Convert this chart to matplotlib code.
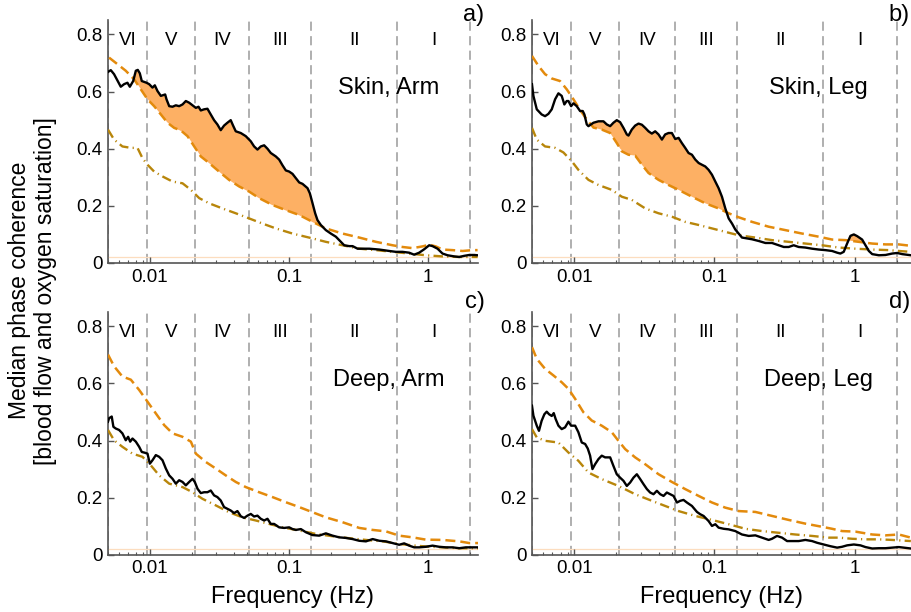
import numpy as np
import matplotlib
matplotlib.use("Agg")
from matplotlib import pyplot as plt
from matplotlib.ticker import LogLocator, FixedLocator, FixedFormatter, NullFormatter

plt.rcParams['font.family'] = ['Liberation Sans', 'DejaVu Sans']

# Frequency bands (Hz) and their names
band_edges = [0.005, 0.0095, 0.021, 0.052, 0.145, 0.6, 2.0]
band_names = ['VI', 'V', 'IV', 'III', 'II', 'I']

# ---- a) Skin, Arm
a_f = [0.005, 0.00524, 0.00553, 0.00618, 0.00653, 0.0069, 0.00718, 0.00759, 0.00793, 0.00819,
       0.00847, 0.00875, 0.00946, 0.00989, 0.01045, 0.01086, 0.01135, 0.012, 0.01289, 0.01318,
       0.01378, 0.01456, 0.01538, 0.01625, 0.01718, 0.01815, 0.01919, 0.02028, 0.02143, 0.02239,
       0.02325, 0.02457, 0.02596, 0.02742, 0.02897, 0.03061, 0.03235, 0.03418, 0.03612, 0.03817,
       0.03969, 0.04149, 0.04507, 0.04897, 0.0532, 0.05623, 0.05943, 0.0628, 0.06637, 0.07015,
       0.07413, 0.08054, 0.08511, 0.08995, 0.09506, 0.1005, 0.1062, 0.1122, 0.1186, 0.1253,
       0.1361, 0.1415, 0.1479, 0.1545, 0.1606, 0.1697, 0.1844, 0.2003, 0.2177, 0.2365,
       0.2499, 0.2716, 0.2871, 0.3119, 0.3389, 0.3785, 0.447, 0.5267, 0.5875, 0.6561,
       0.7328, 0.7962, 0.865, 0.9397, 1.021, 1.079, 1.172, 1.273, 1.384, 1.545,
       1.679, 1.824, 1.982, 2.153, 2.275]
a_coh = [0.669, 0.675, 0.661, 0.617, 0.626, 0.631, 0.617, 0.637, 0.673, 0.676,
         0.664, 0.637, 0.631, 0.626, 0.614, 0.622, 0.602, 0.585, 0.59, 0.573,
         0.549, 0.547, 0.552, 0.549, 0.555, 0.567, 0.561, 0.552, 0.543, 0.547,
         0.534, 0.538, 0.54, 0.52, 0.5, 0.485, 0.465, 0.481, 0.491, 0.5,
         0.481, 0.461, 0.455, 0.444, 0.426, 0.408, 0.397, 0.408, 0.412, 0.4,
         0.385, 0.373, 0.362, 0.342, 0.324, 0.32, 0.312, 0.297, 0.282, 0.277,
         0.262, 0.244, 0.209, 0.174, 0.15, 0.133, 0.115, 0.103, 0.092, 0.074,
         0.062, 0.059, 0.059, 0.05, 0.05, 0.05, 0.047, 0.042, 0.039, 0.039,
         0.036, 0.029, 0.036, 0.048, 0.062, 0.059, 0.05, 0.033, 0.027, 0.023,
         0.021, 0.025, 0.028, 0.028, 0.027]
a_thr_f = [0.00509, 0.00585, 0.00671, 0.00771, 0.00861, 0.00962, 0.01074, 0.012, 0.0134, 0.01496,
           0.01671, 0.01866, 0.02085, 0.02325, 0.02668, 0.03147, 0.03713, 0.04385, 0.05175, 0.06109,
           0.07621, 0.09506, 0.1186, 0.1479, 0.1844, 0.2431, 0.3206, 0.4229, 0.5568, 0.6561,
           0.7745, 0.9141, 1.021, 1.14, 1.273, 1.503, 1.775, 2.094, 2.275]
a_thr = [0.719, 0.696, 0.673, 0.643, 0.608, 0.573, 0.549, 0.52, 0.491, 0.473,
         0.464, 0.444, 0.408, 0.373, 0.35, 0.32, 0.291, 0.268, 0.25, 0.227,
         0.203, 0.185, 0.168, 0.144, 0.121, 0.103, 0.089, 0.074, 0.062, 0.056,
         0.052, 0.058, 0.064, 0.058, 0.047, 0.045, 0.042, 0.045, 0.045]
a_sur_f = [0.005, 0.00553, 0.00635, 0.0073, 0.00815, 0.00885, 0.00962, 0.01074, 0.01233, 0.01456,
           0.01718, 0.01973, 0.02265, 0.02668, 0.03325, 0.04149, 0.05175, 0.06456, 0.08054, 0.1062,
           0.1479, 0.1844, 0.2431, 0.3206, 0.4229, 0.5568, 0.7328, 0.9661, 1.273, 1.679, 2.275]
a_sur = [0.467, 0.432, 0.408, 0.403, 0.403, 0.367, 0.344, 0.32, 0.303, 0.285,
         0.279, 0.256, 0.227, 0.209, 0.191, 0.174, 0.156, 0.138, 0.121, 0.103,
         0.086, 0.074, 0.062, 0.05, 0.045, 0.039, 0.033, 0.027, 0.023, 0.021, 0.021]

# ---- b) Skin, Leg
b_f = [0.005, 0.00512, 0.00541, 0.00586, 0.0062, 0.00655, 0.00692, 0.00731, 0.00772, 0.00815,
       0.00851, 0.00885, 0.0091, 0.00951, 0.00988, 0.01043, 0.01102, 0.01151, 0.01183, 0.0123,
       0.01264, 0.01373, 0.0149, 0.01617, 0.01709, 0.01806, 0.01906, 0.02013, 0.02127, 0.02247,
       0.02375, 0.02441, 0.02576, 0.02723, 0.02877, 0.03041, 0.03213, 0.03391, 0.03581, 0.03784,
       0.03998, 0.04226, 0.04458, 0.0471, 0.04977, 0.0526, 0.05559, 0.05861, 0.06194, 0.06546,
       0.06918, 0.07311, 0.07727, 0.08147, 0.0861, 0.09099, 0.09616, 0.1016, 0.1072, 0.1133,
       0.1197, 0.1265, 0.1337, 0.1411, 0.1491, 0.1574, 0.1709, 0.1855, 0.2072, 0.2312,
       0.2578, 0.2877, 0.3126, 0.3391, 0.3681, 0.3998, 0.446, 0.4977, 0.5559, 0.6194,
       0.6918, 0.7516, 0.7925, 0.8375, 0.8851, 0.9354, 0.9885, 1.044, 1.133, 1.197,
       1.265, 1.337, 1.491, 1.663, 1.855, 2.016, 2.188, 2.523]
b_coh = [0.626, 0.585, 0.538, 0.52, 0.514, 0.522, 0.538, 0.573, 0.594, 0.585,
         0.555, 0.567, 0.567, 0.549, 0.559, 0.549, 0.532, 0.532, 0.52, 0.485,
         0.479, 0.491, 0.496, 0.496, 0.485, 0.479, 0.491, 0.5, 0.493, 0.473,
         0.45, 0.446, 0.467, 0.481, 0.488, 0.484, 0.473, 0.461, 0.453, 0.461,
         0.45, 0.432, 0.45, 0.455, 0.455, 0.434, 0.438, 0.42, 0.403, 0.385,
         0.379, 0.362, 0.35, 0.344, 0.338, 0.326, 0.309, 0.285, 0.262, 0.232,
         0.191, 0.156, 0.138, 0.117, 0.103, 0.089, 0.086, 0.083, 0.077, 0.07,
         0.07, 0.062, 0.056, 0.056, 0.062, 0.056, 0.054, 0.05, 0.047, 0.045,
         0.042, 0.036, 0.033, 0.039, 0.068, 0.095, 0.1, 0.094, 0.082, 0.062,
         0.042, 0.031, 0.027, 0.028, 0.033, 0.035, 0.031, 0.027]
b_thr_f = [0.005, 0.00556, 0.0062, 0.00692, 0.00793, 0.00885, 0.00988, 0.01102, 0.0123, 0.01373,
           0.01573, 0.01806, 0.02013, 0.02186, 0.02441, 0.02723, 0.03041, 0.03391, 0.03998, 0.0471,
           0.05559, 0.06918, 0.0861, 0.1072, 0.1265, 0.1491, 0.1855, 0.244, 0.3213, 0.4226,
           0.5559, 0.6918, 0.861, 1.072, 1.337, 1.663, 2.072, 2.523]
b_thr = [0.725, 0.69, 0.661, 0.646, 0.637, 0.608, 0.573, 0.536, 0.502, 0.474,
         0.467, 0.455, 0.42, 0.391, 0.379, 0.376, 0.344, 0.315, 0.291, 0.273,
         0.256, 0.232, 0.209, 0.191, 0.174, 0.16, 0.144, 0.127, 0.115, 0.103,
         0.092, 0.082, 0.08, 0.074, 0.068, 0.065, 0.065, 0.06]
b_sur_f = [0.005, 0.00541, 0.0062, 0.00731, 0.00838, 0.00962, 0.01072, 0.01264, 0.0149, 0.01855,
           0.02186, 0.02576, 0.03213, 0.03998, 0.04977, 0.06194, 0.07727, 0.09616, 0.1197, 0.1491,
           0.1961, 0.2578, 0.3391, 0.446, 0.5861, 0.7727, 1.016, 1.337, 1.758, 2.072, 2.523]
b_sur = [0.473, 0.432, 0.408, 0.403, 0.387, 0.356, 0.326, 0.291, 0.273, 0.256,
         0.232, 0.221, 0.191, 0.174, 0.162, 0.144, 0.133, 0.121, 0.109, 0.097,
         0.089, 0.08, 0.074, 0.068, 0.062, 0.054, 0.05, 0.047, 0.045, 0.042, 0.039]

# ---- c) Deep, Arm
c_f = [0.005, 0.00509, 0.00532, 0.00547, 0.00569, 0.00601, 0.00635, 0.00671, 0.00698, 0.00722,
       0.0075, 0.00793, 0.00838, 0.00875, 0.00925, 0.00962, 0.01, 0.01045, 0.01104, 0.01167,
       0.01233, 0.01303, 0.01378, 0.01456, 0.01538, 0.01625, 0.01718, 0.01815, 0.01919, 0.02028,
       0.02105, 0.02203, 0.02325, 0.02457, 0.02596, 0.02742, 0.02897, 0.03061, 0.03235, 0.03418,
       0.03612, 0.03817, 0.04036, 0.04265, 0.04507, 0.04763, 0.05034, 0.0532, 0.05623, 0.05943,
       0.0628, 0.06637, 0.07015, 0.07413, 0.07834, 0.08511, 0.09247, 0.1005, 0.1062, 0.1122,
       0.1219, 0.1324, 0.1479, 0.1651, 0.1844, 0.2059, 0.2301, 0.2569, 0.2871, 0.3206,
       0.3581, 0.4001, 0.447, 0.4983, 0.5568, 0.6209, 0.6745, 0.7328, 0.7962, 0.865,
       0.9661, 1.079, 1.205, 1.346, 1.503, 1.679, 1.875, 2.094, 2.339]
c_coh = [0.466, 0.478, 0.484, 0.448, 0.442, 0.437, 0.425, 0.401, 0.413, 0.396,
         0.407, 0.396, 0.378, 0.36, 0.357, 0.354, 0.319, 0.331, 0.349, 0.343,
         0.331, 0.302, 0.278, 0.266, 0.249, 0.261, 0.255, 0.243, 0.255, 0.266,
         0.255, 0.231, 0.216, 0.219, 0.219, 0.225, 0.208, 0.202, 0.19, 0.167,
         0.161, 0.155, 0.146, 0.153, 0.135, 0.129, 0.137, 0.143, 0.134, 0.137,
         0.126, 0.12, 0.126, 0.108, 0.108, 0.096, 0.094, 0.096, 0.09, 0.087,
         0.09, 0.079, 0.069, 0.067, 0.075, 0.067, 0.061, 0.059, 0.055, 0.049,
         0.047, 0.055, 0.049, 0.047, 0.041, 0.035, 0.04, 0.032, 0.026, 0.026,
         0.028, 0.032, 0.028, 0.026, 0.026, 0.023, 0.026, 0.026, 0.026]
c_thr_f = [0.005, 0.00553, 0.00635, 0.0073, 0.00838, 0.00962, 0.01104, 0.01268, 0.01456, 0.01718,
           0.01973, 0.02143, 0.02525, 0.02978, 0.03513, 0.04149, 0.04897, 0.06109, 0.07621, 0.09506,
           0.1186, 0.1479, 0.1844, 0.2431, 0.3206, 0.4001, 0.4983, 0.6209, 0.7745, 0.9661,
           1.273, 1.679, 1.982, 2.339]
c_thr = [0.701, 0.66, 0.624, 0.613, 0.577, 0.536, 0.495, 0.454, 0.425, 0.413,
         0.396, 0.354, 0.325, 0.302, 0.278, 0.255, 0.237, 0.219, 0.202, 0.184,
         0.167, 0.149, 0.131, 0.114, 0.094, 0.087, 0.082, 0.067, 0.061, 0.053,
         0.052, 0.047, 0.041, 0.041]
c_sur_f = [0.005, 0.00553, 0.00635, 0.0075, 0.00885, 0.01017, 0.01167, 0.01378, 0.01718, 0.02028,
           0.0239, 0.02978, 0.03713, 0.04634, 0.05781, 0.07211, 0.08995, 0.1186, 0.1561, 0.2059,
           0.2716, 0.3581, 0.4715, 0.6209, 0.7745, 0.9661, 1.273, 1.679, 2.339]
c_sur = [0.437, 0.401, 0.378, 0.354, 0.343, 0.313, 0.278, 0.249, 0.237, 0.219,
         0.196, 0.173, 0.149, 0.131, 0.12, 0.108, 0.096, 0.085, 0.073, 0.065,
         0.058, 0.052, 0.047, 0.038, 0.033, 0.029, 0.026, 0.023, 0.023]

# ---- d) Deep, Leg
d_f = [0.005, 0.00512, 0.00541, 0.00561, 0.00586, 0.00613, 0.00637, 0.00662, 0.00692, 0.00715,
       0.00738, 0.00772, 0.00815, 0.00861, 0.0091, 0.00951, 0.01016, 0.01072, 0.01133, 0.01197,
       0.0125, 0.01299, 0.0135, 0.0141, 0.0149, 0.01573, 0.01663, 0.01806, 0.01906, 0.02013,
       0.02127, 0.02247, 0.02375, 0.02508, 0.02649, 0.02799, 0.02958, 0.03126, 0.03302, 0.03483,
       0.03681, 0.0389, 0.0411, 0.0434, 0.04582, 0.04842, 0.05117, 0.05408, 0.05715, 0.06026,
       0.06368, 0.06918, 0.07516, 0.07925, 0.08375, 0.09099, 0.09616, 0.1016, 0.1072, 0.1165,
       0.1265, 0.1411, 0.1574, 0.1758, 0.1961, 0.2188, 0.244, 0.2578, 0.2799, 0.3041,
       0.3302, 0.3581, 0.3998, 0.446, 0.4977, 0.5408, 0.6026, 0.673, 0.7516, 0.8147,
       0.8851, 0.9885, 1.102, 1.197, 1.337, 1.491, 1.663, 1.855, 2.072, 2.523]
d_coh = [0.522, 0.487, 0.452, 0.434, 0.469, 0.492, 0.501, 0.492, 0.486, 0.496,
         0.475, 0.452, 0.44, 0.446, 0.466, 0.452, 0.452, 0.429, 0.393, 0.388,
         0.372, 0.347, 0.3, 0.317, 0.335, 0.347, 0.341, 0.341, 0.311, 0.282,
         0.27, 0.259, 0.241, 0.253, 0.27, 0.282, 0.265, 0.247, 0.23, 0.218,
         0.212, 0.224, 0.212, 0.206, 0.218, 0.212, 0.206, 0.183, 0.189, 0.192,
         0.183, 0.171, 0.15, 0.142, 0.136, 0.118, 0.101, 0.107, 0.095, 0.091,
         0.089, 0.083, 0.071, 0.066, 0.068, 0.06, 0.052, 0.056, 0.066, 0.06,
         0.048, 0.048, 0.048, 0.052, 0.048, 0.042, 0.036, 0.03, 0.025, 0.028,
         0.033, 0.036, 0.033, 0.027, 0.022, 0.023, 0.023, 0.025, 0.027, 0.022]
d_thr_f = [0.005, 0.00541, 0.0062, 0.00711, 0.00815, 0.0091, 0.01016, 0.01164, 0.01335, 0.01573,
           0.01855, 0.02069, 0.02311, 0.02723, 0.03213, 0.03998, 0.04977, 0.06194, 0.07727, 0.09616,
           0.1197, 0.1491, 0.1961, 0.2578, 0.3391, 0.446, 0.5861, 0.6918, 0.8147, 1.016,
           1.337, 1.663, 2.072, 2.523]
d_thr = [0.727, 0.686, 0.651, 0.628, 0.604, 0.581, 0.546, 0.499, 0.47, 0.452,
         0.429, 0.399, 0.37, 0.341, 0.317, 0.282, 0.255, 0.23, 0.206, 0.183,
         0.165, 0.153, 0.15, 0.136, 0.122, 0.109, 0.098, 0.091, 0.083, 0.081,
         0.071, 0.068, 0.071, 0.06]
d_sur_f = [0.005, 0.00541, 0.0062, 0.00772, 0.0091, 0.01072, 0.01264, 0.01573, 0.02069, 0.02723,
           0.03581, 0.04458, 0.05559, 0.07311, 0.09616, 0.1265, 0.1663, 0.2188, 0.2877, 0.3784,
           0.4977, 0.6546, 0.7727, 0.9616, 1.197, 1.491, 1.855, 2.523]
d_sur = [0.44, 0.411, 0.399, 0.393, 0.358, 0.329, 0.288, 0.265, 0.241, 0.212,
         0.189, 0.171, 0.153, 0.136, 0.122, 0.107, 0.091, 0.083, 0.077, 0.071,
         0.066, 0.06, 0.06, 0.056, 0.054, 0.054, 0.052, 0.048]

BLACK = 'black'
ORANGE = '#E38A0C'
GOLD = '#B8860B'
FILL = '#FDB064'
GRID = '#9A9A9A'

fig = plt.figure(figsize=(9.12, 6.12), dpi=100)

panels = [
    # rect, xmax, data, name, tag, tag position, bottom row
    ([0.1184, 0.5703, 0.4057, 0.3967], 2.29, (a_f, a_coh, a_thr_f, a_thr, a_sur_f, a_sur),
     'Skin, Arm', 'a)', (0.519, 0.975), False),
    ([0.5833, 0.5703, 0.4167, 0.3967], 2.57, (b_f, b_coh, b_thr_f, b_thr, b_sur_f, b_sur),
     'Skin, Leg', 'b)', (0.986, 0.975), False),
    ([0.1184, 0.0935, 0.4057, 0.3967], 2.29, (c_f, c_coh, c_thr_f, c_thr, c_sur_f, c_sur),
     'Deep, Arm', 'c)', (0.521, 0.507), True),
    ([0.5833, 0.0935, 0.4167, 0.3967], 2.57, (d_f, d_coh, d_thr_f, d_thr, d_sur_f, d_sur),
     'Deep, Leg', 'd)', (0.986, 0.507), True),
]

for rect, xmax, data, name, tag, tagpos, bottom in panels:
    f, coh, thr_f, thr, sur_f, sur = data
    ax = fig.add_axes(rect)
    ax.set_xscale('log')
    ax.set_xlim(0.005, xmax)
    ax.set_ylim(0, 0.85)

    # band boundaries
    for e in band_edges:
        ax.axvline(e, color=GRID, lw=1.1, dashes=(6, 3.5), zorder=1)
    for i, lab in enumerate(band_names):
        xc = np.sqrt(band_edges[i] * band_edges[i + 1])
        ax.text(xc, 0.778, lab, ha='center', va='center', fontsize=13.5)

    ax.axhline(0.02, color='#FCDDBF', lw=0.9, zorder=1)

    # significant coherence: median above the surrogate threshold
    thr_on_f = np.interp(np.log10(f), np.log10(thr_f), thr)
    ax.fill_between(f, thr_on_f, coh, where=np.array(coh) > thr_on_f,
                    interpolate=True, color=FILL, lw=0, zorder=2)

    ax.plot(sur_f, sur, color=GOLD, lw=1.7, dashes=(4, 1.8, 0.5, 1.8), zorder=3)
    ax.plot(thr_f, thr, color=ORANGE, lw=1.8, dashes=(4, 2), zorder=3)
    ax.plot(f, coh, color=BLACK, lw=1.7, zorder=4)

    ax.text(0.52 if xmax < 2.4 else 0.55, 0.612, name, ha='center', va='center', fontsize=17)
    fig.text(tagpos[0], tagpos[1], tag, ha='center', va='center', fontsize=17)

    for s in ['top', 'right']:
        ax.spines[s].set_visible(False)
    for s in ['left', 'bottom']:
        ax.spines[s].set_color('#555555')
        ax.spines[s].set_linewidth(1.2)

    ax.xaxis.set_major_locator(FixedLocator([0.01, 0.1, 1]))
    ax.xaxis.set_major_formatter(FixedFormatter(['0.01', '0.1', '1']))
    ax.xaxis.set_minor_locator(LogLocator(base=10, subs=np.arange(2, 10)))
    ax.xaxis.set_minor_formatter(NullFormatter())
    ax.yaxis.set_major_locator(FixedLocator([0, 0.2, 0.4, 0.6, 0.8]))
    ax.yaxis.set_major_formatter(FixedFormatter(['0', '0.2', '0.4', '0.6', '0.8']))
    ax.tick_params(which='major', direction='in', length=4, width=1, color='#555555',
                   labelsize=13.5, pad=4)
    ax.tick_params(which='minor', direction='in', length=2.2, width=0.8, color='#555555')
    if bottom:
        ax.set_xlabel('Frequency (Hz)', fontsize=17, labelpad=6)

fig.text(0.036, 0.525, 'Median phase coherence\n[blood flow and oxygen saturation]',
         rotation=90, ha='center', va='center', fontsize=16.5, multialignment='center',
         linespacing=1.15)

fig.savefig('out.png', dpi=100)
